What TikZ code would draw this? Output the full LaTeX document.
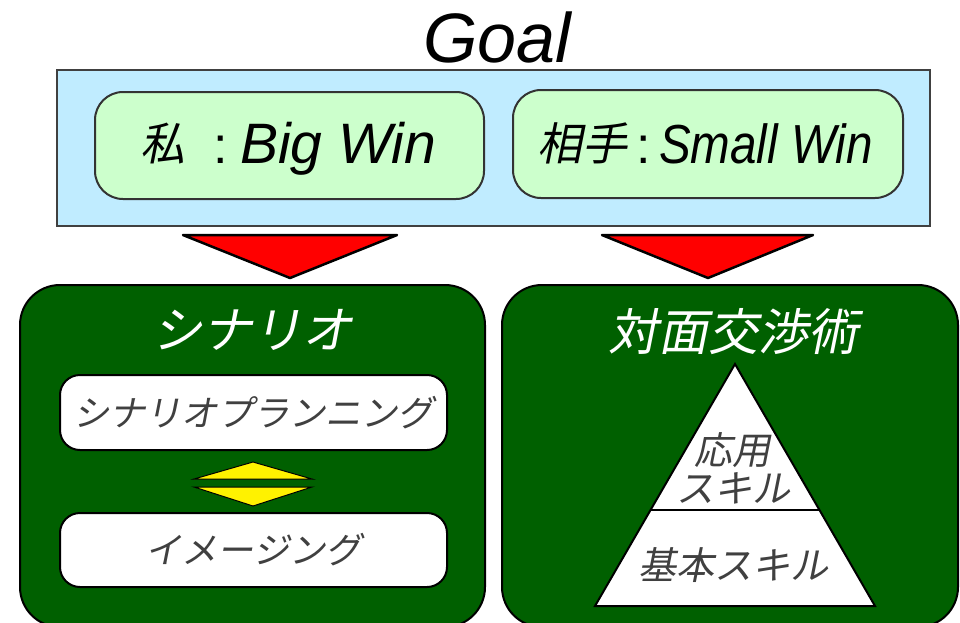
\documentclass[tikz,border=0pt]{standalone}
\usepackage{fontspec}
\setmainfont{Liberation Sans}
\newfontfamily\jp{Noto Sans CJK JP}[FakeSlant=0.2]
\newfontfamily\lat{Liberation Sans}
\newfontfamily\latn{Liberation Sans}[FakeStretch=0.865]
\usetikzlibrary{calc}
\definecolor{goalblue}{RGB}{192,236,255}
\definecolor{wingreen}{RGB}{204,255,204}
\definecolor{darkgr}{RGB}{0,96,0}
\definecolor{txtgray}{RGB}{64,64,64}
\tikzset{
  box/.style={draw=black, line width=2pt, inner sep=0pt, outer sep=0pt},
  goalbox/.style={box, draw=black!75, fill=goalblue},
  winbox/.style={box, draw=black!80, fill=wingreen, rounded corners=28pt},
  bigbox/.style={box, fill=darkgr, rounded corners=40pt},
  whitebox/.style={box, fill=white, rounded corners=20pt},
  downtri/.style={draw=black, line width=2.5pt, fill=red, line join=round},
  yeltri/.style={draw=black, line width=1pt, fill=yellow},
  pyr/.style={draw=black, line width=2pt, fill=white, line join=miter},
  piece/.style={inner sep=0pt, outer sep=0pt},
  winjp/.style={piece, anchor=base west, font=\jp\fontsize{45}{50}\selectfont},
  winlat/.style={piece, anchor=base west, font=\lat\itshape\fontsize{57}{60}\selectfont},
  winlatn/.style={piece, anchor=base west, font=\latn\itshape\fontsize{55}{60}\selectfont},
  wincolon/.style={piece, anchor=base, font=\lat\fontsize{52}{60}\selectfont},
  titletext/.style={text=white, font=\jp\fontsize{50}{56}\selectfont},
  graytext/.style={text=txtgray, font=\jp\fontsize{36}{40}\selectfont},
  pyrtext/.style={text=txtgray, font=\jp\fontsize{38}{42}\selectfont},
}
\begin{document}
\begin{tikzpicture}[x=1pt,y=-1pt]
\useasboundingbox (0,0) rectangle (960,622);
% goal
\node[font=\lat\itshape\fontsize{70}{70}\selectfont] (goal) at (497,37) {Goal};
\node[goalbox, minimum width=873pt, minimum height=156pt] (goalbox) at (493.5,148) {};
\node[winbox, minimum width=389pt, minimum height=107pt] (win1) at (289.5,145.5) {};
\node[winbox, minimum width=390pt, minimum height=108pt] (win2) at (708,144) {};
\node[winjp] (win1a) at (140,160) {私};
\node[wincolon] (win1b) at (221,163) {:};
\node[winlat] (win1c) at (240,163) {Big Win};
\node[winjp] (win2a) at (537,160) {相手};
\node[wincolon] (win2b) at (644,163) {:};
\node[winlatn] (win2c) at (659,163) {Small Win};
% red arrows
\coordinate (a1l) at (183,235);
\coordinate (a1r) at (397,235);
\coordinate (a1t) at (290,278);
\coordinate (a2l) at (602,235);
\coordinate (a2r) at (813,235);
\coordinate (a2t) at (708,278);
\draw[downtri] (a1l) -- (a1r) -- (a1t) -- cycle;
\draw[downtri] (a2l) -- (a2r) -- (a2t) -- cycle;
% big boxes
\node[bigbox, minimum width=465pt, minimum height=342pt] (scen) at (252.5,456) {};
\node[bigbox, minimum width=456pt, minimum height=342pt] (nego) at (730,456) {};
\node[titletext] (scent) at (252,330) {シナリオ};
\node[titletext] (negot) at (733,332) {対面交渉術};
% scenario contents
\node[whitebox, minimum width=387pt, minimum height=75pt] (plan) at (253.5,412.5) {};
\node[graytext] (plant) at (plan.center) {シナリオプランニング};
\node[whitebox, minimum width=387pt, minimum height=74pt] (img) at (253.5,550) {};
\node[graytext] (imgt) at (img.center) {イメージング};
\coordinate (y1l) at (194,479);
\coordinate (y1r) at (312,479);
\coordinate (y1t) at (253,462);
\coordinate (y2l) at (194,487);
\coordinate (y2r) at (312,487);
\coordinate (y2t) at (253,506);
\draw[yeltri] (y1l) -- (y1r) -- (y1t) -- cycle;
\draw[yeltri] (y2l) -- (y2r) -- (y2t) -- cycle;
% pyramid
\coordinate (pa) at (735,364);
\coordinate (pl) at (595,606);
\coordinate (pr) at (875,606);
\draw[pyr] (pa) -- (pr) -- (pl) -- cycle;
\draw[line width=2pt] ($(pa)!0.603!(pl)$) -- ($(pa)!0.603!(pr)$);
\node[pyrtext] (p1) at (732,450) {応用};
\node[pyrtext] (p2) at (733,488) {スキル};
\node[pyrtext] (p3) at (733,565) {基本スキル};
\end{tikzpicture}
\end{document}
